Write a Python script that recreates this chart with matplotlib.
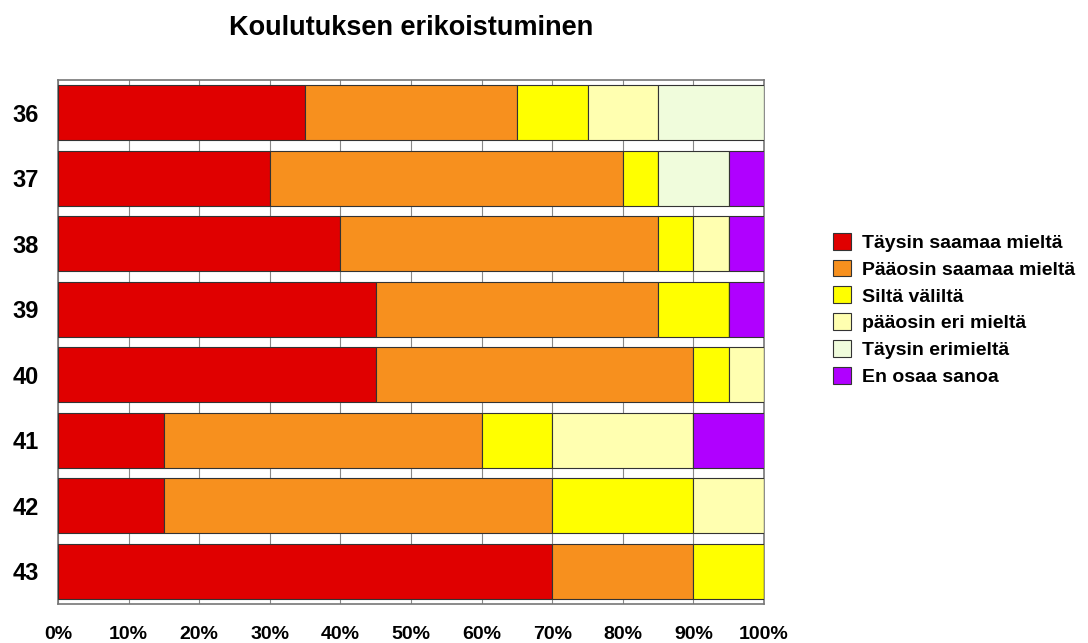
import matplotlib
matplotlib.use("Agg")
import matplotlib.pyplot as plt
import numpy as np

rows = ["36", "37", "38", "39", "40", "41", "42", "43"]
series = ["Täysin saamaa mieltä", "Pääosin saamaa mieltä", "Siltä väliltä",
          "pääosin eri mieltä", "Täysin erimieltä", "En osaa sanoa"]
taysin_samaa = [35, 30, 40, 45, 45, 15, 15, 70]
paaosin_samaa = [30, 50, 45, 40, 45, 45, 55, 20]
silta_valilta = [10, 5, 5, 10, 5, 10, 20, 10]
paaosin_eri = [10, 0, 5, 0, 5, 20, 10, 0]
taysin_eri = [15, 10, 0, 0, 0, 0, 0, 0]
en_osaa = [0, 5, 5, 5, 0, 10, 0, 0]
values = [taysin_samaa, paaosin_samaa, silta_valilta, paaosin_eri, taysin_eri, en_osaa]
colors = ["#E00000", "#F7901E", "#FFFF00", "#FFFFB0", "#F0FCDC", "#B000FF"]
xticks = ["0%", "10%", "20%", "30%", "40%", "50%", "60%", "70%", "80%", "90%", "100%"]

plt.rcParams['font.family'] = ['Liberation Sans', 'DejaVu Sans']

fig = plt.figure(figsize=(10.88, 6.43), dpi=100)
ax = fig.add_axes([58/1088, 1-604/643, (764-58)/1088, (604-80)/643])

y = np.arange(len(rows))
left = np.zeros(len(rows))
for vals, col, name in zip(values, colors, series):
    v = np.array(vals, dtype=float)
    ax.barh(y, v, left=left, height=0.84, color=col, edgecolor="#333333",
            linewidth=0.8, label=name, zorder=3)
    left += v

ax.set_xlim(0, 100)
ax.set_ylim(len(rows) - 0.5, -0.5)
ax.set_xticks(np.arange(0, 101, 10))
ax.set_xticklabels(xticks, fontsize=14, fontweight="bold")
ax.set_yticks(y)
ax.set_yticklabels(rows, fontsize=17, fontweight="bold")
ax.tick_params(axis="both", length=0)
ax.tick_params(axis="x", pad=16)
ax.tick_params(axis="y", pad=14)
ax.grid(axis="x", color="#888888", linewidth=0.8, zorder=0)
for s in ax.spines.values():
    s.set_color("#777777")
    s.set_linewidth(1.2)

fig.text(411/1088, 1-28/643, "Koulutuksen erikoistuminen", ha="center", va="center",
         fontsize=19.5, fontweight="bold")

fig.legend(loc="upper left", bbox_to_anchor=(825/1088, 1-225/643), frameon=False,
           prop={"weight": "bold", "size": 14}, handlelength=0.95, handleheight=0.95,
           handletextpad=0.55, labelspacing=0.4, borderaxespad=0)

fig.savefig("out.png", dpi=100)
